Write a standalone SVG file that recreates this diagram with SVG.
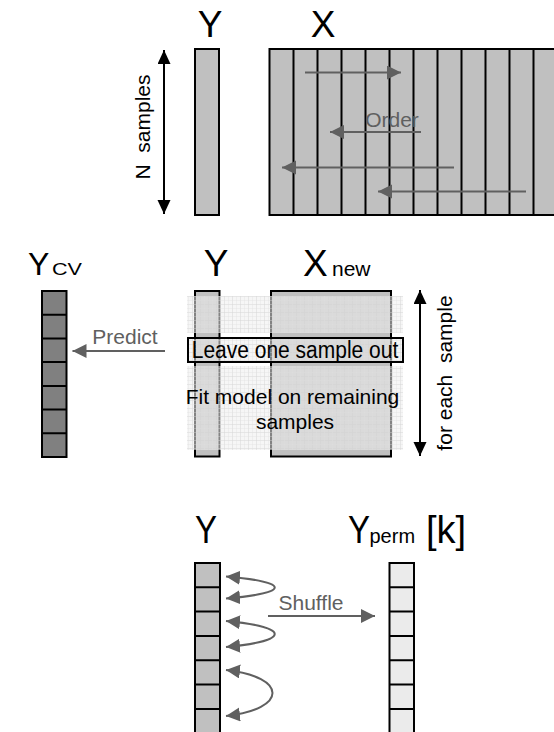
<svg xmlns="http://www.w3.org/2000/svg" width="554" height="732" viewBox="0 0 554 732">
  <defs>
    <style>
      text { font-family: "Liberation Sans", Arial, sans-serif; }
      .big { font-size: 37px; fill: #000; }
      .sub { font-size: 20px; fill: #000; }
      .lbl { font-size: 21px; fill: #000; }
      .glbl { font-size: 21px; fill: #606060; }
      .col { stroke: #000; stroke-width: 2; }
      .mid { fill: #c0c0c0; }
      .dark { fill: #808080; }
      .light { fill: #ebebeb; }
      .garrow { stroke: #606060; stroke-width: 2; fill: none; marker-end: url(#gHead); }
      .curve { stroke: #606060; stroke-width: 2; fill: none; marker-start: url(#gHead); marker-end: url(#gHead); }
      .barrow { stroke: #000; stroke-width: 2; fill: none; marker-start: url(#bHead); marker-end: url(#bHead); }
      .cell { stroke: #000; stroke-width: 2; }
      .haze { fill: url(#mesh); }
    </style>
    <marker id="gHead" markerUnits="userSpaceOnUse" markerWidth="16" markerHeight="16" refX="14" refY="7" orient="auto-start-reverse">
      <path d="M0,0 L14,7 L0,14 Z" fill="#606060"/>
    </marker>
    <marker id="bHead" markerUnits="userSpaceOnUse" markerWidth="16" markerHeight="16" refX="14" refY="6.5" orient="auto-start-reverse">
      <path d="M0,0 L14,6.5 L0,13 Z" fill="#000"/>
    </marker>
    <!-- fine translucent mesh laid over the sample rows -->
    <pattern id="mesh" patternUnits="userSpaceOnUse" width="8" height="8">
      <rect width="8" height="8" fill="#eeeeee" fill-opacity="0.55"/>
      <path d="M0,0.5 H8 M0.5,0 V8" stroke="#d4d4d4" stroke-opacity="0.45" stroke-width="1"/>
      <path d="M0,4.5 H8 M4.5,0 V8" stroke="#e0e0e0" stroke-opacity="0.35" stroke-width="1"/>
    </pattern>
  </defs>

  <!-- Top: ordering of X columns -->
  <g id="top-y">
    <text class="big" x="210" y="37" text-anchor="middle">Y</text>
    <rect class="col mid" x="195" y="49" width="24" height="166"/>
  </g>
  <g id="top-x">
    <text class="big" x="323" y="37" text-anchor="middle">X</text>
    <rect class="col mid" x="269.5" y="49" width="300" height="166"/>
    <path class="cell" d="M293.5,49V215 M317.5,49V215 M341.5,49V215 M365.5,49V215 M389.5,49V215 M413.5,49V215 M437.5,49V215 M461.5,49V215 M485.5,49V215 M509.5,49V215 M533.5,49V215"/>
  </g>
  <g id="n-samples">
    <text class="lbl" transform="translate(149.5,127) rotate(-90)" text-anchor="middle" xml:space="preserve">N  samples</text>
  </g>
  <g id="order-label">
    <text class="glbl" x="392" y="127" text-anchor="middle">Order</text>
  </g>

  <!-- Middle: leave-one-out cross validation -->
  <g id="ycv">
    <text x="28" y="275" style="font-size:32px">Y</text>
    <text class="sub" x="52" y="275" style="font-size:17px" textLength="30" lengthAdjust="spacingAndGlyphs">CV</text>
    <rect class="col dark" x="42" y="291" width="24.5" height="166"/>
    <path class="cell" d="M42,314.7H66.5 M42,338.4H66.5 M42,362.1H66.5 M42,385.9H66.5 M42,409.6H66.5 M42,433.3H66.5"/>
  </g>
  <g id="predict-label">
    <text class="glbl" x="125" y="344" text-anchor="middle">Predict</text>
  </g>
  <g id="mid-y">
    <text class="big" x="216" y="276" text-anchor="middle">Y</text>
    <rect class="col mid" x="195" y="291" width="24.5" height="165.5"/>
  </g>
  <g id="x-new">
    <text class="big" x="303" y="276">X</text>
    <text class="sub" x="332" y="276" style="font-size:21px">new</text>
    <rect class="col mid" x="271" y="291" width="120" height="165.5"/>
  </g>
  <g id="mesh-overlay">
    <rect class="haze" x="187" y="296" width="216" height="37"/>
    <rect class="haze" x="187" y="337" width="216" height="25"/>
    <rect class="haze" x="187" y="366" width="216" height="84"/>
  </g>
  <g id="leave-one-out">
    <rect x="188" y="338" width="215" height="24" fill="none" stroke="#000" stroke-width="2"/>
    <text class="lbl" transform="translate(295,358) scale(1,1.12)" text-anchor="middle">Leave one sample out</text>
  </g>
  <g id="fit-model">
    <text class="lbl" x="292.5" y="404" text-anchor="middle">Fit model on remaining</text>
    <text class="lbl" x="295" y="429" text-anchor="middle">samples</text>
  </g>
  <g id="for-each-sample">
    <text class="lbl" transform="translate(452,373) rotate(-90)" text-anchor="middle" xml:space="preserve">for each  sample</text>
  </g>

  <!-- Bottom: permutation of Y -->
  <g id="bottom-y">
    <text class="big" transform="translate(206,543) scale(1,1.2)" text-anchor="middle" style="font-size:33px">Y</text>
    <rect class="col mid" x="195" y="563" width="25" height="172"/>
    <path class="cell" d="M195,587.3H220 M195,611.6H220 M195,636H220 M195,660.3H220 M195,684.6H220 M195,708.9H220"/>
  </g>
  <g id="shuffle-label">
    <text class="glbl" x="311" y="610" text-anchor="middle">Shuffle</text>
  </g>
  <g id="y-perm">
    <text class="big" transform="translate(359,543) scale(1,1.2)" text-anchor="middle" style="font-size:33px">Y</text>
    <text class="sub" x="369.5" y="543">perm</text>
    <text class="big" x="426" y="543" style="font-size:38px">[k]</text>
    <rect class="col light" x="389.5" y="563" width="24.5" height="172"/>
    <path class="cell" d="M389.5,587.3H414 M389.5,611.6H414 M389.5,636H414 M389.5,660.3H414 M389.5,684.6H414 M389.5,708.9H414"/>
  </g>

  <!-- Connectors -->
  <g id="connectors">
    <line class="barrow" x1="164" y1="50" x2="164" y2="214"/>
    <line class="garrow" x1="305" y1="72.5" x2="401" y2="72.5"/>
    <line class="garrow" x1="421" y1="132" x2="330" y2="132"/>
    <line class="garrow" x1="454" y1="167.5" x2="282" y2="167.5"/>
    <line class="garrow" x1="526" y1="191.5" x2="378" y2="191.5"/>
    <line class="garrow" x1="165" y1="351" x2="72.5" y2="351"/>
    <line class="barrow" x1="420" y1="290" x2="420" y2="456"/>
    <line class="garrow" x1="268" y1="616" x2="375" y2="616"/>
    <path class="curve" d="M226,576.5 C291,582 291,593 226,598.5"/>
    <path class="curve" d="M226,621 C291,627 291,641 226,647"/>
    <path class="curve" d="M226,670 C288,677 288,709 226,716"/>
  </g>
</svg>
